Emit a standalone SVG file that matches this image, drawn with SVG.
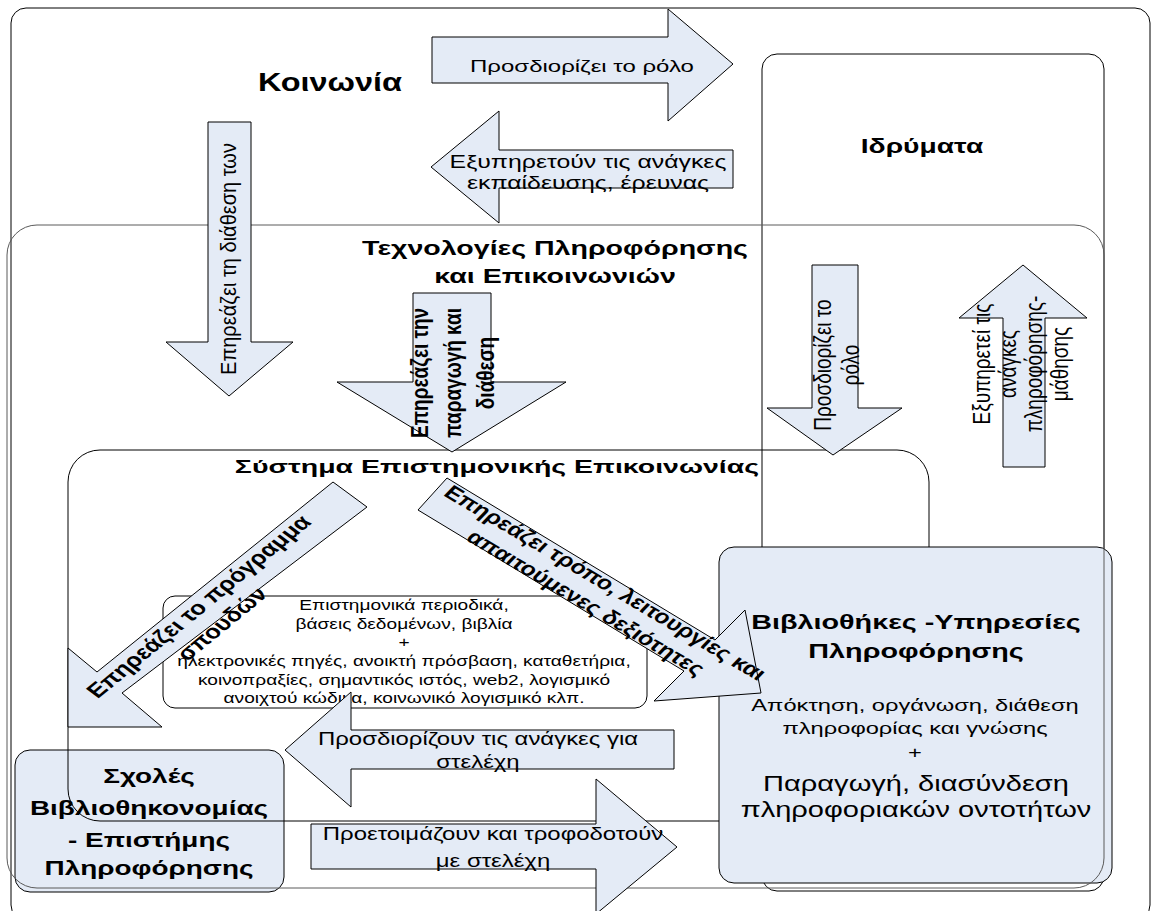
<svg xmlns="http://www.w3.org/2000/svg" width="1153" height="911" viewBox="0 0 1153 911">
<defs>
<style>
.box{fill:none;stroke:#000;stroke-width:1}
.ict{fill:none;stroke:#5a5a5a;stroke-width:1}
.fb{fill:#E4EBF6;stroke:#000;stroke-width:1}
.wb{fill:#fff;stroke:#000;stroke-width:1}
.ar{fill:#E4EBF6;stroke:#000;stroke-width:1}
text{font-family:"Liberation Sans",Arial,sans-serif;fill:#000}
.b{font-weight:bold}
.c{text-anchor:middle}
</style>
</defs>
<rect width="1153" height="911" fill="#fff"/>
<g id="koinonia">
<rect class="box" x="11" y="8" width="1139" height="912" rx="15"/>
<text class="b c" font-size="25" transform="translate(330,0) scale(1.3,1)" y="91">Κοινωνία</text>
</g>
<g id="idrymata">
<rect class="box" x="762" y="54" width="342" height="837" rx="15"/>
<text class="b c" font-size="20" transform="translate(922,0) scale(1.41,1)" y="153">Ιδρύματα</text>
</g>
<g id="sxoles">
<rect class="fb" x="15" y="750" width="269" height="142" rx="15"/>
<text class="b c" font-size="21" transform="translate(149,0) scale(1.33,1)"><tspan x="0" y="783">Σχολές</tspan><tspan x="0" y="815">Βιβλιοθηκονομίας</tspan><tspan x="0" y="847">- Επιστήμης</tspan><tspan x="0" y="875">Πληροφόρησης</tspan></text>
</g>
<g id="systima">
<rect class="box" x="68" y="450" width="861" height="371" rx="32"/>
<text class="b c" font-size="19" transform="translate(497,0) scale(1.5,1)" y="473">Σύστημα Επιστημονικής Επικοινωνίας</text>
</g>
<g id="vivliothikes">
<rect class="fb" x="719" y="547" width="393" height="336" rx="15"/>
<text class="b c" font-size="21" transform="translate(916,0) scale(1.37,1)"><tspan x="0" y="629">Βιβλιοθήκες -Υπηρεσίες</tspan><tspan x="0" y="658">Πληροφόρησης</tspan></text>
<text class="c" font-size="16" transform="translate(915,0) scale(1.48,1)"><tspan x="0" y="711">Απόκτηση, οργάνωση, διάθεση</tspan><tspan x="0" y="734">πληροφορίας και γνώσης</tspan><tspan x="0" y="758">+</tspan></text>
<text class="c" font-size="22" transform="translate(916,0) scale(1.32,1)"><tspan x="0" y="791">Παραγωγή, διασύνδεση</tspan><tspan x="0" y="817">πληροφοριακών οντοτήτων</tspan></text>
</g>
<g id="tpe">
<rect class="ict" x="7" y="225" width="1097" height="663" rx="30"/>
<text class="b c" font-size="20" transform="translate(555,0) scale(1.43,1)"><tspan x="0" y="255">Τεχνολογίες Πληροφόρησης</tspan><tspan x="0" y="283">και Επικοινωνιών</tspan></text>
</g>
<g id="pigess">
<rect class="wb" x="163" y="596" width="484" height="112" rx="12"/>
<text class="c" font-size="14.5" transform="translate(404,0) scale(1.32,1)"><tspan x="0" y="610">Επιστημονικά περιοδικά,</tspan><tspan x="0" y="629">βάσεις δεδομένων, βιβλία</tspan><tspan x="0" y="647">+</tspan><tspan x="0" y="666">ηλεκτρονικές πηγές, ανοικτή πρόσβαση, καταθετήρια,</tspan><tspan x="0" y="685">κοινοπραξίες, σημαντικός ιστός, web2, λογισμικό</tspan><tspan x="0" y="703">ανοιχτού κώδικα, κοινωνικό λογισμικό κλπ.</tspan></text>
</g>
<g id="connectors">
<g id="a1">
<polygon class="ar" points="432,37 668,37 668,9 733,64 668,121 668,83 432,83"/>
<text class="c" font-size="16" transform="translate(582,0) scale(1.5,1)" y="72">Προσδιορίζει το ρόλο</text>
</g>
<g id="a2">
<polygon class="ar" points="733,150 499,150 499,111 431,167 499,223 499,188 733,188"/>
<text class="c" font-size="18" transform="translate(588,0) scale(1.38,1)"><tspan x="0" y="168">Εξυπηρετούν τις ανάγκες</tspan><tspan x="0" y="189">εκπαίδευσης, έρευνας</tspan></text>
</g>
<g id="a3">
<polygon class="ar" points="208,122 251,122 251,342 293,342 229,396 166,342 208,342"/>
<text class="c" font-size="20" transform="translate(228,259) scale(1.1,1) rotate(-90)" y="7">Επηρεάζει τη διάθεση των</text>
</g>
<g id="a4">
<polygon class="ar" points="413,293 491,293 491,382 566,382 452,452 337,382 413,382"/>
<text class="b c" font-size="19" transform="translate(452,373) scale(1.3,1) rotate(-90)"><tspan x="0" y="-18.5">Επηρεάζει την</tspan><tspan x="0" y="7">παραγωγή και</tspan><tspan x="0" y="32.5">διάθεση</tspan></text>
</g>
<g id="a5">
<polygon class="ar" points="812,265 858,265 858,408 902,408 833,455 767,408 812,408"/>
<text class="c" font-size="19" transform="translate(836,365) scale(1.28,1) rotate(-90)"><tspan x="0" y="-4">Προσδιορίζει το</tspan><tspan x="0" y="18">ρόλο</tspan></text>
</g>
<g id="a6">
<polygon class="ar" points="1003,467 1003,318 959,318 1023,265 1087,318 1045,318 1045,467"/>
<text class="c" font-size="19" transform="translate(1021,364) scale(1.28,1) rotate(-90)"><tspan x="0" y="-24">Εξυπηρετεί τις</tspan><tspan x="0" y="-3.7">ανάγκες</tspan><tspan x="0" y="16.7">πληροφόρησης-</tspan><tspan x="0" y="37">μάθησης</tspan></text>
</g>
<g id="a7">
<polygon class="ar" points="333,482 367,507 122,693 162,727 68,727 68,648 97,672"/>
<text class="b c" font-size="20" transform="translate(210,615) scale(1.28,1) rotate(-46.4)"><tspan x="0" y="-5.5">Επηρεάζει το πρόγραμμα</tspan><tspan x="0" y="19.5">σπουδών</tspan></text>
</g>
<g id="a8">
<polygon class="ar" points="447,478 715,640 745,610 761,693 654,701 684,671 418,510"/>
<text class="b c" font-size="19.5" transform="translate(596,592.5) scale(1.28,1) rotate(37.1)"><tspan x="0" y="-5.5">Επηρεάζει τρόπο, λειτουργίες και</tspan><tspan x="0" y="19.5">απαιτούμενες δεξιότητες</tspan></text>
</g>
<g id="a9">
<polygon class="ar" points="674,730 351,730 351,692 285,750 351,807 351,769 674,769"/>
<text class="c" font-size="18" transform="translate(478,0) scale(1.33,1)"><tspan x="0" y="745">Προσδιορίζουν τις ανάγκες για</tspan><tspan x="0" y="768">στελέχη</tspan></text>
</g>
<g id="a10">
<polygon class="ar" points="311,824 596,824 596,779 677,847 596,914 596,869 311,869"/>
<text class="c" font-size="18" transform="translate(493,0) scale(1.33,1)"><tspan x="0" y="840">Προετοιμάζουν και τροφοδοτούν</tspan><tspan x="0" y="867">με στελέχη</tspan></text>
</g>
</g>
</svg>
